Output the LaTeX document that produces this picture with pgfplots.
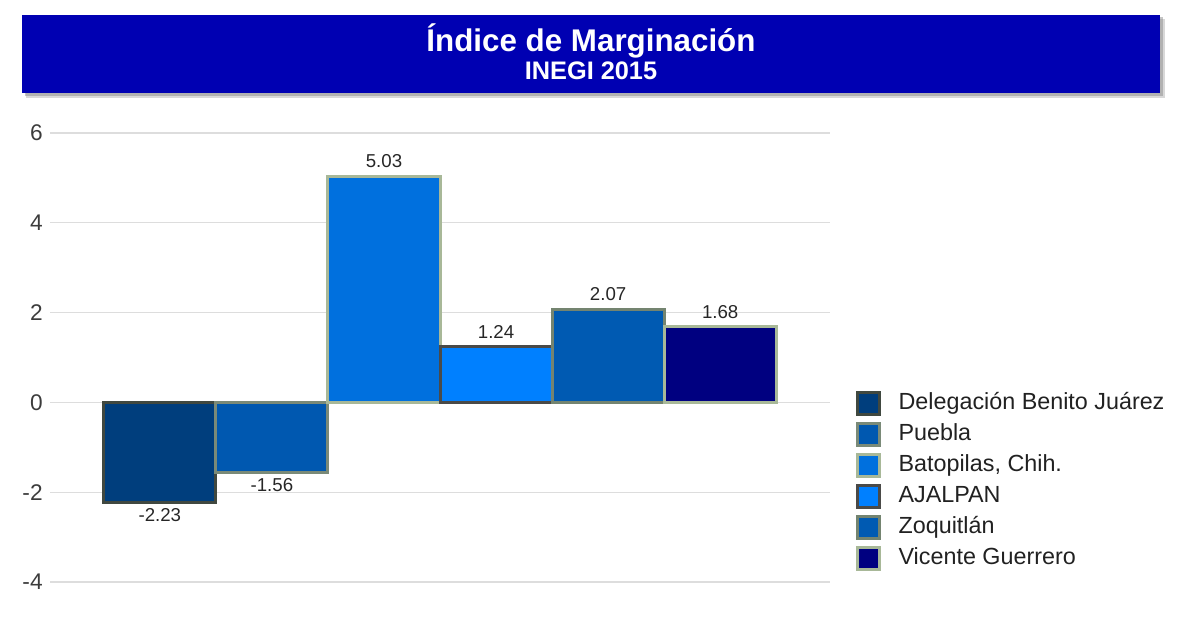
\documentclass[border=0pt]{standalone}
\usepackage{pgfplots}
\pgfplotsset{compat=1.18}
\usepackage{fontspec}
\setmainfont{Liberation Sans}
\definecolor{titlebg}{RGB}{0,0,178}
\definecolor{fa}{RGB}{0,62,125}
\definecolor{fb}{RGB}{0,88,176}
\definecolor{fc}{RGB}{0,112,222}
\definecolor{fd}{RGB}{0,128,255}
\definecolor{fe}{RGB}{0,90,178}
\definecolor{ff}{RGB}{0,0,128}
\definecolor{ba}{RGB}{64,72,64}
\definecolor{bb}{RGB}{122,138,120}
\definecolor{bc}{RGB}{168,184,152}
\definecolor{bd}{RGB}{74,74,72}
\definecolor{be}{RGB}{116,132,112}
\definecolor{bf}{RGB}{168,184,152}
\definecolor{gridc}{RGB}{221,221,221}
\definecolor{tickc}{RGB}{60,60,60}
\begin{document}
\begin{tikzpicture}
% title banner
\fill[black!30,opacity=0.5] (-18pt,363pt) rectangle (836pt,422.25pt);
\fill[black!45,opacity=0.5] (-19pt,364.5pt) rectangle (834.5pt,423.75pt);
\fill[titlebg] (-21pt,366.75pt) rectangle (832.5pt,425.25pt);
\node[anchor=base,text=white,font=\fontsize{23.5}{26}\selectfont\bfseries] at (405.75pt,397.5pt) {Índice de Marginación};
\node[anchor=base,text=white,font=\fontsize{19}{22}\selectfont\bfseries] at (405.75pt,376.5pt) {INEGI 2015};
\begin{axis}[
  at={(0,0)}, anchor=south west,
  scale only axis,
  width=585pt, height=336.75pt,
  xmin=-0.98, xmax=5.98,
  ymin=-4, ymax=6,
  ytick={-4,-2,0,2,4,6},
  yticklabels={-4,-2,0,2,4,6},
  xtick=\empty,
  axis line style={draw=none},
  major tick length=0pt,
  ymajorgrids,
  grid style={gridc, line width=1pt},
  yticklabel style={font=\fontsize{17}{20}\selectfont, text=tickc, anchor=east, xshift=-2pt},
  ybar, bar width=1,
  every axis plot/.append style={bar shift=0pt, line width=2.25pt},
  point meta=explicit symbolic,
  nodes near coords,
  every node near coord/.append style={font=\fontsize{14}{16}\selectfont, text=black!85, anchor=south, yshift=2pt},
  legend style={draw=none, fill=none, at={(1.028,0.4324)}, anchor=north west,
    font=\fontsize{17.5}{20}\selectfont, text=black!87,
    row sep=4.6pt,
    nodes={inner sep=0pt, text height=13pt, text depth=4pt, anchor=west}},
  legend cell align=left,
  /tikz/every odd column/.append style={column sep=13.5pt},
  legend image code/.code={\draw[#1, line width=2.25pt] (1.1pt,-8.2pt) rectangle (17.2pt,8.2pt);},
]
\addplot[fill=fa, draw=ba, every node near coord/.append style={anchor=north, yshift=-2pt}] coordinates {(0,-2.23) [-2.23]};
\addplot[fill=fb, draw=bb, every node near coord/.append style={anchor=north, yshift=-2pt}] coordinates {(1,-1.56) [-1.56]};
\addplot[fill=fc, draw=bc] coordinates {(2,5.03) [5.03]};
\addplot[fill=fd, draw=bd] coordinates {(3,1.24) [1.24]};
\addplot[fill=fe, draw=be] coordinates {(4,2.07) [2.07]};
\addplot[fill=ff, draw=bf] coordinates {(5,1.68) [1.68]};
\legend{Delegación Benito Juárez, Puebla, {Batopilas, Chih.}, AJALPAN, Zoquitlán, Vicente Guerrero}
\end{axis}
\pgfresetboundingbox
\useasboundingbox (-37.5pt,-27pt) rectangle (846pt,436.5pt);
\end{tikzpicture}
\end{document}
